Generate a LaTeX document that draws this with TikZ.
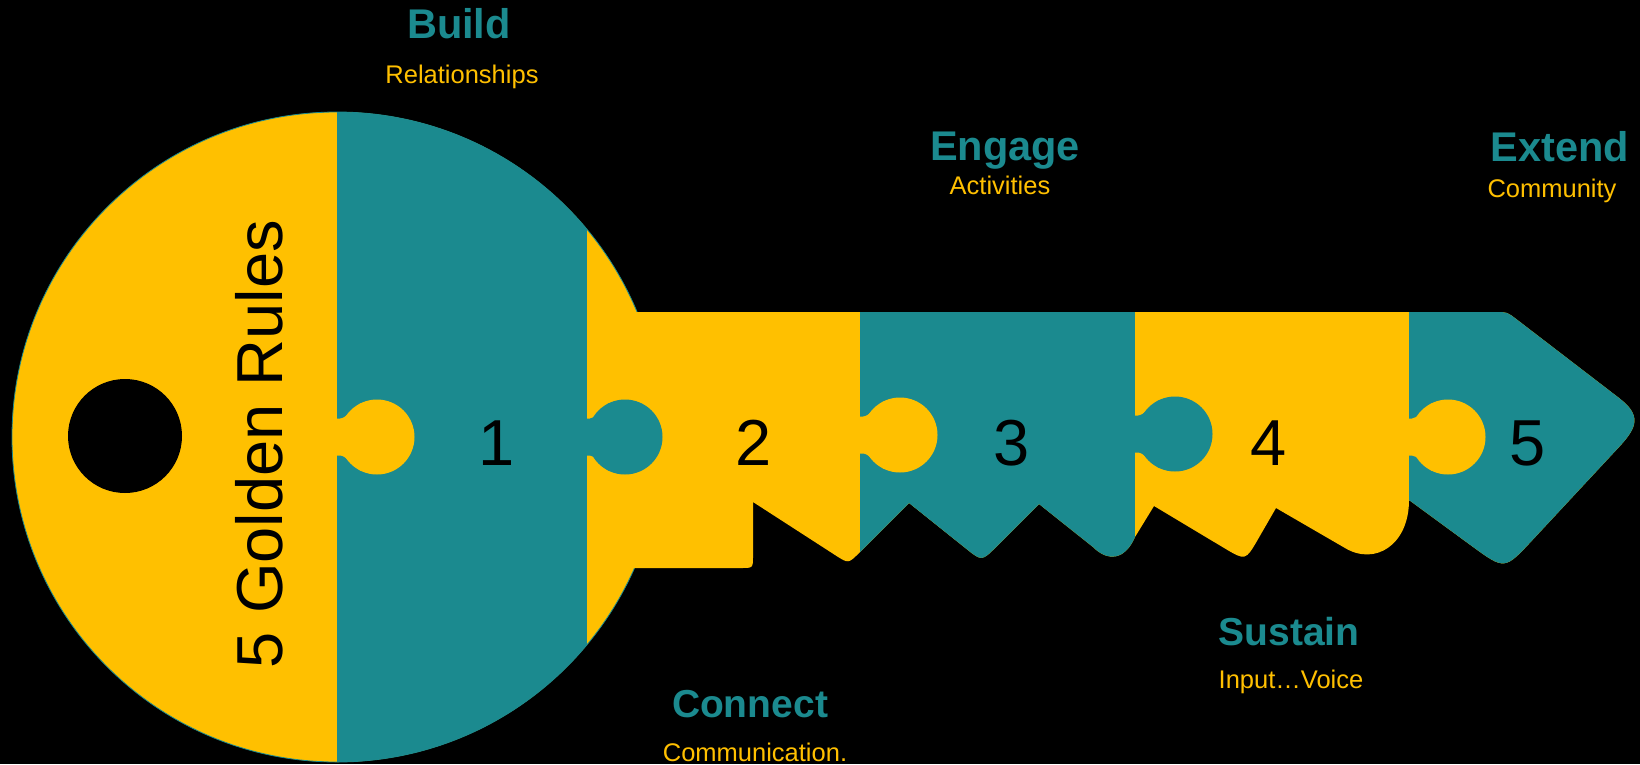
\documentclass[tikz,border=0pt]{standalone}
\usepackage{fontspec}
\setmainfont{Liberation Sans}
\definecolor{keyteal}{RGB}{27,138,143}
\definecolor{keyyellow}{RGB}{255,192,0}
\newcommand\jigknob[4]{% #1 boundary x, #2 bulb centre x, #3 centre y, #4 colour
  \fill[#4] ({#1-3},{#3-18.5}) -- ({#1+3},{#3-18.5})
     .. controls ({#1+9},{#3-18.5}) and ({#2-26},{#3-27.5}) .. ({#2-16},{#3-33.9})
     -- ({#2-16},{#3+33.9})
     .. controls ({#2-26},{#3+27.5}) and ({#1+9},{#3+18.5}) .. ({#1+3},{#3+18.5})
     -- ({#1-3},{#3+18.5}) -- cycle;
  \fill[#4] (#2,#3) circle[radius=37.5pt];}
\def\shaftpath{(595,312) -- (1495,312) .. controls (1507,312) .. (1516.5,319.3)
  -- (1619,398) .. controls (1641.1,415.1) and (1638,426.6) .. (1619,447)
  -- (1531.8,540.7) .. controls (1504.6,569.9) .. (1472.2,546.3)
  -- (1409,500) .. controls (1409,545) and (1375,566) .. (1345,548)
  -- (1276,508) -- (1258,539.2) .. controls (1245.5,560.8) .. (1224.1,548)
  -- (1154,506) -- (1135,537) .. controls (1125,560) and (1108,562) .. (1093,547)
  -- (1039,504) -- (996,547) .. controls (981.8,561.2) .. (966.2,548.7)
  -- (909,503) -- (859,553) .. controls (848.4,563.6) .. (835.8,555.5)
  -- (753,502) -- (753,556) .. controls (753,568) .. (741,568)
  -- (595,568) -- cycle}
\begin{document}
\begin{tikzpicture}[x=1pt,y=-1pt,
  title/.style={font=\fontsize{39pt}{39pt}\selectfont\bfseries, text=keyteal, anchor=base, inner sep=0pt},
  titlebig/.style={title, font=\fontsize{41.5pt}{41.5pt}\selectfont\bfseries},
  subtitle/.style={font=\fontsize{25.5pt}{25.5pt}\selectfont, text=keyyellow, anchor=base, inner sep=0pt},
  numlabel/.style={font=\fontsize{65pt}{65pt}\selectfont, text=black, anchor=base, inner sep=0pt}]
\useasboundingbox (0,0) rectangle (1640,764);
\fill[black] (0,0) rectangle (1640,764);
% head
\fill[keyyellow, draw=keyteal, line width=0.8pt] (337,437) circle[radius=325pt];
\begin{scope}
  \clip (337,437) circle[radius=325pt];
  \fill[keyteal] (337,100) rectangle (587,770);
\end{scope}
% keyhole
\fill[black] (125,436) circle[radius=57pt];
% shaft
\fill[keyyellow] \shaftpath;
\begin{scope}
  \clip \shaftpath;
  \fill[keyteal] (860,300) rectangle (1135,600);
  \fill[keyteal] (1409,300) rectangle (1640,600);
\end{scope}
% knobs
\jigknob{587}{625}{437}{keyteal}
\jigknob{1135}{1175}{434}{keyteal}
\jigknob{337}{377}{437}{keyyellow}
\jigknob{860}{900}{435}{keyyellow}
\jigknob{1409}{1448}{437}{keyyellow}
% texts
\node[numlabel, rotate=90] (golden) at (282,444) {5 Golden Rules};
\node[numlabel] (n1) at (497,465) {1};
\node[numlabel] (n2) at (754,465) {2};
\node[numlabel] (n3) at (1012,465) {3};
\node[numlabel] (n4) at (1269,465) {4};
\node[numlabel] (n5) at (1528,465) {5};
\node[titlebig] (build) at (459,38) {Build};
\node[subtitle] (buildsub) at (462,83) {Relationships};
\node[titlebig] (engage) at (1005,160) {Engage};
\node[subtitle] (engagesub) at (1000,194) {Activities};
\node[titlebig] (extend) at (1560,161) {Extend};
\node[subtitle] (extendsub) at (1552,197) {Community};
\node[title] (connect) at (750,717) {Connect};
\node[subtitle] (connectsub) at (755,761) {Communication.};
\node[title] (sustain) at (1289,645) {Sustain};
\node[subtitle] (sustainsub) at (1291,688) {Input…Voice};
\end{tikzpicture}
\end{document}
